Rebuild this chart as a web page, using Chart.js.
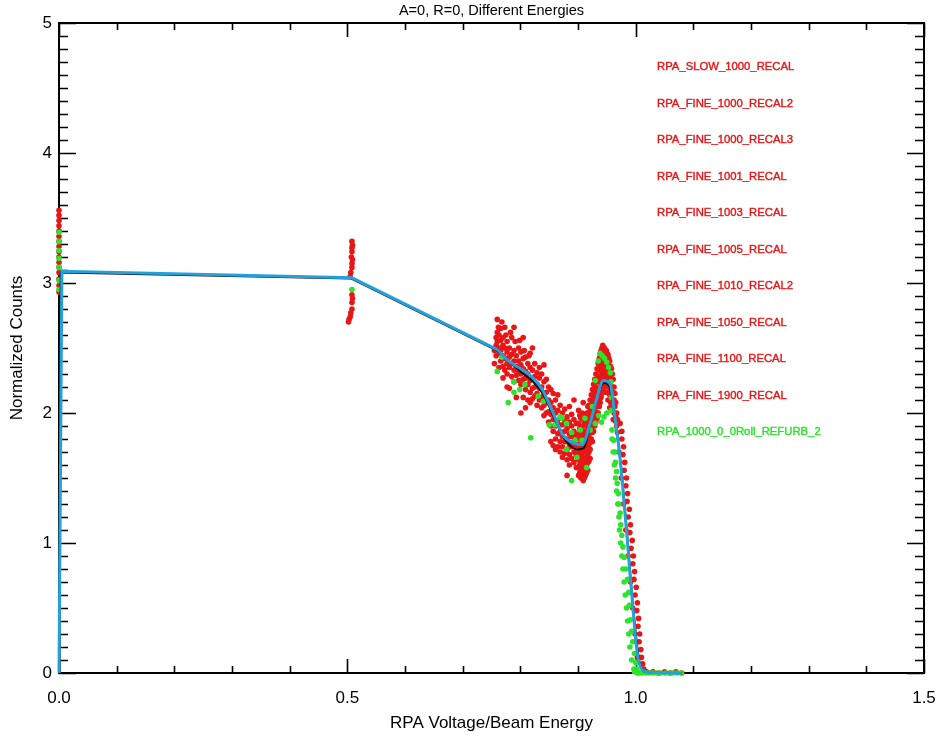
<!DOCTYPE html>
<html>
<head>
<meta charset="utf-8">
<script src="https://cdn.jsdelivr.net/npm/chart.js@4.4.1/dist/chart.umd.min.js"></script>
<style>
  html, body { margin: 0; padding: 0; background: #fff; }
  #wrap { width: 940px; height: 738px; }
</style>
</head>
<body>
<div id="wrap"><canvas id="rpa_canvas" width="940" height="738"></canvas></div>
<script>
// ---- data ----
const chartTitle = 'A=0, R=0, Different Energies';
const xTitle = 'RPA Voltage/Beam Energy';
const yTitle = 'Normalized Counts';
const xTickLabels = ['0.0', '0.5', '1.0', '1.5'];
const yTickLabels = ['0', '1', '2', '3', '4', '5'];

const runNames = ['RPA_SLOW_1000_RECAL', 'RPA_FINE_1000_RECAL2', 'RPA_FINE_1000_RECAL3',
  'RPA_FINE_1001_RECAL', 'RPA_FINE_1003_RECAL', 'RPA_FINE_1005_RECAL', 'RPA_FINE_1010_RECAL2',
  'RPA_FINE_1050_RECAL', 'RPA_FINE_1100_RECAL', 'RPA_FINE_1900_RECAL', 'RPA_1000_0_0Roll_REFURB_2'];
const runColors = ['red', 'red', 'red', 'red', 'red', 'red', 'red', 'red', 'red', 'red', 'green'];

// red runs (x = RPA voltage / beam energy, y = normalized counts)
const redEdge = [[0,3.56],[0,3.52],[0,3.48],[0,3.44],[0,3.40],[0,3.36],[0,3.32],[0,3.28],[0,3.24],
  [0,3.20],[0,3.16],[0,3.12],[0,3.08],[0,3.03],[0,2.98],[0,2.93]];
const redMid = [[0.508,3.32],[0.509,3.29],[0.508,3.27],[0.508,3.24],[0.507,3.20],[0.509,3.18],
  [0.508,3.15],[0.508,3.12],[0.506,3.08],[0.505,3.05],[0.508,2.91],[0.509,2.88],[0.508,2.85],
  [0.508,2.80],[0.506,2.77],[0.505,2.74],[0.503,2.72],[0.502,2.70]];
const redCloud = [
  [0.755,2.48],[0.755,2.38],[0.758,2.58],[0.758,2.52],[0.758,2.44],[0.760,2.72],[0.760,2.62],[0.760,2.55],
  [0.763,2.60],[0.763,2.50],[0.763,2.46],[0.763,2.35],[0.766,2.65],[0.766,2.56],[0.766,2.48],[0.766,2.40],
  [0.770,2.58],[0.770,2.52],[0.770,2.44],[0.770,2.36],[0.770,2.27],[0.773,2.66],[0.773,2.50],[0.773,2.42],
  [0.773,2.33],[0.777,2.55],[0.777,2.47],[0.777,2.38],[0.777,2.30],[0.777,2.20],[0.781,2.50],[0.781,2.43],
  [0.781,2.35],[0.781,2.19],[0.785,2.58],[0.785,2.45],[0.785,2.38],[0.785,2.28],[0.789,2.66],[0.789,2.48],
  [0.789,2.40],[0.789,2.33],[0.789,2.24],[0.793,2.44],[0.793,2.36],[0.793,2.29],[0.793,2.12],[0.797,2.50],
  [0.797,2.40],[0.797,2.32],[0.797,2.25],[0.801,2.47],[0.801,2.37],[0.801,2.30],[0.801,2.22],[0.801,2.00],
  [0.805,2.58],[0.805,2.42],[0.805,2.34],[0.805,2.26],[0.805,2.12],[0.809,2.43],[0.809,2.32],[0.809,2.27],
  [0.809,2.18],[0.809,2.04],[0.813,2.38],[0.813,2.30],[0.813,2.22],[0.813,2.10],[0.817,2.46],[0.817,2.35],
  [0.817,2.25],[0.817,2.16],[0.817,2.08],[0.821,2.50],[0.821,2.33],[0.821,2.26],[0.821,2.19],[0.821,2.11],
  [0.825,2.38],[0.825,2.28],[0.825,2.20],[0.825,2.13],[0.829,2.31],[0.829,2.22],[0.829,2.15],[0.829,2.06],
  [0.833,2.35],[0.833,2.27],[0.833,2.19],[0.833,2.10],[0.837,2.30],[0.837,2.20],[0.837,2.12],[0.837,2.04],
  [0.841,2.37],[0.841,2.24],[0.841,2.15],[0.841,2.06],[0.841,1.98],[0.845,2.26],[0.845,2.16],[0.845,2.08],
  [0.845,2.00],[0.849,2.20],[0.849,2.10],[0.849,2.01],[0.849,1.93],[0.853,2.18],[0.853,2.08],[0.853,1.99],
  [0.853,1.90],[0.853,1.78],[0.857,2.15],[0.857,2.04],[0.857,1.95],[0.857,1.86],[0.857,1.75],[0.861,2.10],
  [0.861,2.00],[0.861,1.90],[0.861,1.80],[0.861,1.72],[0.865,2.14],[0.865,2.02],[0.865,1.92],[0.865,1.84],
  [0.865,1.74],[0.869,2.06],[0.869,1.96],[0.869,1.86],[0.869,1.78],[0.869,1.70],[0.873,2.00],[0.873,1.91],
  [0.873,1.82],[0.873,1.74],[0.873,1.66],[0.877,2.03],[0.877,1.94],[0.877,1.86],[0.877,1.78],[0.877,1.69],
  [0.881,1.97],[0.881,1.88],[0.881,1.80],[0.881,1.72],[0.881,1.64],[0.881,1.52],[0.885,2.05],[0.885,1.93],
  [0.885,1.84],[0.885,1.76],[0.885,1.68],[0.885,1.60],[0.889,1.99],[0.889,1.90],[0.889,1.82],[0.889,1.74],
  [0.889,1.65],[0.893,2.10],[0.893,1.95],[0.893,1.86],[0.893,1.78],[0.893,1.70],[0.893,1.62],[0.897,1.92],
  [0.897,1.83],[0.897,1.75],[0.897,1.67],[0.897,1.58],
  [0.762,2.66],[0.768,2.70],[0.775,2.60],[0.783,2.62],[0.791,2.55],[0.799,2.56],[0.807,2.48],[0.815,2.44]];
const redPeak = [
  [0.901,2.02],[0.901,1.92],[0.901,1.84],[0.901,1.76],[0.901,1.70],[0.901,1.64],[0.901,1.58],[0.901,1.52],
  [0.905,1.96],[0.905,1.88],[0.905,1.80],[0.905,1.74],[0.905,1.68],[0.905,1.62],[0.905,1.56],[0.905,1.50],
  [0.909,2.08],[0.909,1.95],[0.909,1.86],[0.909,1.78],[0.909,1.72],[0.909,1.66],[0.909,1.60],[0.909,1.54],
  [0.909,1.48],[0.913,1.98],[0.913,1.90],[0.913,1.82],[0.913,1.76],[0.913,1.70],[0.913,1.64],[0.913,1.58],
  [0.913,1.52],[0.917,2.05],[0.917,1.96],[0.917,1.88],[0.917,1.80],[0.917,1.74],[0.917,1.68],[0.917,1.62],
  [0.917,1.56],[0.921,2.10],[0.921,2.02],[0.921,1.94],[0.921,1.86],[0.921,1.80],[0.921,1.72],[0.921,1.65],
  [0.925,2.18],[0.925,2.08],[0.925,2.00],[0.925,1.92],[0.925,1.85],[0.925,1.78],[0.929,2.26],[0.929,2.16],
  [0.929,2.06],[0.929,1.98],[0.929,1.90],[0.933,2.34],[0.933,2.24],[0.933,2.14],[0.933,2.05],[0.933,1.96],
  [0.937,2.42],[0.937,2.33],[0.937,2.24],[0.937,2.14],[0.937,2.05],[0.940,2.48],[0.940,2.40],[0.940,2.32],
  [0.940,2.22],[0.940,2.12],[0.943,2.52],[0.943,2.44],[0.943,2.36],[0.943,2.28],[0.943,2.18],[0.946,2.50],
  [0.946,2.43],[0.946,2.36],[0.946,2.28],[0.946,2.20],[0.949,2.48],[0.949,2.40],[0.949,2.32],[0.949,2.25],
  [0.949,2.16],[0.952,2.45],[0.952,2.37],[0.952,2.29],[0.952,2.20],[0.952,2.10],[0.955,2.40],[0.955,2.32],
  [0.955,2.24],[0.955,2.14],[0.955,2.04],[0.958,2.34],[0.958,2.25],[0.958,2.15],[0.958,2.05],[0.961,2.26],
  [0.961,2.16],[0.961,2.06],[0.961,1.95],[0.964,2.15],[0.964,2.05],[0.964,1.94],[0.967,2.00],[0.967,1.90]];
const redPeakFill = [
  [0.903,1.98],[0.903,1.88],[0.903,1.80],[0.903,1.72],[0.903,1.66],[0.903,1.60],[0.903,1.54],
  [0.907,2.00],[0.907,1.90],[0.907,1.83],[0.907,1.76],[0.907,1.70],[0.907,1.64],[0.907,1.58],[0.907,1.52],
  [0.911,1.92],[0.911,1.84],[0.911,1.78],[0.911,1.70],[0.911,1.62],[0.911,1.56],[0.911,1.50],
  [0.915,2.00],[0.915,1.92],[0.915,1.85],[0.915,1.78],[0.915,1.72],[0.915,1.66],[0.915,1.60],[0.915,1.54],
  [0.919,2.06],[0.919,1.98],[0.919,1.90],[0.919,1.83],[0.919,1.76],[0.919,1.70],[0.919,1.63],
  [0.923,2.14],[0.923,2.04],[0.923,1.96],[0.923,1.88],[0.923,1.80],[0.927,2.22],[0.927,2.12],[0.927,2.03],
  [0.927,1.95],[0.927,1.86],[0.931,2.30],[0.931,2.20],[0.931,2.10],[0.931,2.01],[0.931,1.93],[0.935,2.38],
  [0.935,2.28],[0.935,2.18],[0.935,2.09],[0.935,2.00],[0.9385,2.45],[0.9385,2.37],[0.9385,2.28],[0.9385,2.18],
  [0.9385,2.08],[0.9415,2.50],[0.9415,2.42],[0.9415,2.34],[0.9415,2.25],[0.9415,2.15],[0.9445,2.48],
  [0.9445,2.40],[0.9445,2.32],[0.9445,2.24],[0.9475,2.47],[0.9475,2.39],[0.9475,2.31],[0.9475,2.22],
  [0.9505,2.46],[0.9505,2.38],[0.9505,2.30],[0.9505,2.21],[0.9535,2.42],[0.9535,2.34],[0.9535,2.25],
  [0.9535,2.15],[0.9565,2.36],[0.9565,2.28],[0.9565,2.18],[0.9565,2.08],[0.9595,2.30],[0.9595,2.20],
  [0.9595,2.10],[0.9625,2.20],[0.9625,2.10],[0.9625,2.00],[0.9655,2.08],[0.9655,1.97],[0.9685,1.95],[0.9685,1.85]];
const redDrop = [
  [0.973,1.92],[0.976,1.86],[0.976,1.80],[0.979,1.74],[0.978,1.68],[0.981,1.62],[0.980,1.56],[0.984,1.50],
  [0.983,1.44],[0.986,1.38],[0.985,1.32],[0.989,1.26],[0.987,1.20],[0.991,1.14],[0.990,1.08],[0.994,1.02],
  [0.992,0.96],[0.996,0.90],[0.995,0.84],[0.998,0.78],[0.997,0.72],[1.001,0.66],[0.999,0.60],[1.003,0.54],
  [1.002,0.48],[1.005,0.42],[1.004,0.36],[1.007,0.30],[1.006,0.24],[1.009,0.18],[1.010,0.12],[1.012,0.07],
  [1.014,0.03],[1.018,0.01],[0.971,1.70],[0.975,1.50],[0.979,1.30],[0.983,1.10],[0.987,0.90],[0.991,0.70],
  [0.995,0.50],[0.999,0.30],[1.003,0.12]];
const redTail = [[1.02,0.005],[1.03,0.01],[1.04,0.0],[1.05,0.01],[1.06,0.0],[1.07,0.01],[1.08,0.0]];

// green run (RPA_1000_0_0Roll_REFURB_2)
const greenEdge = [[0,3.39],[0,3.32],[0,3.25],[0,3.19],[0,3.12],[0,3.02],[0,2.95]];
const greenMid = [[0.508,2.95]];
const greenCloud = [[0.768,2.43],[0.760,2.32],[0.789,2.24],[0.789,2.16],[0.799,2.18],[0.808,2.22],
  [0.779,2.08],[0.831,2.13],[0.840,2.09],[0.818,1.81],[0.850,1.91],[0.869,1.97],[0.860,1.91],
  [0.889,1.85],[0.880,1.72],[0.898,1.66],[0.889,1.48],[0.872,1.96],[0.880,1.92]];
const greenPeak = [[0.935,2.40],[0.938,2.46],[0.942,2.44],[0.946,2.42],[0.950,2.39],[0.953,2.35],
  [0.956,2.31],[0.957,2.24],[0.958,2.12],[0.958,2.02],[0.930,2.25],[0.941,1.93],[0.930,1.92],
  [0.921,1.87],[0.912,1.96],[0.904,1.87],[0.907,1.79],[0.895,1.79],[0.915,1.58],[0.936,1.98],
  [0.945,1.97],[0.950,2.00],[0.925,2.05]];
const greenDrop = [[0.959,1.87],[0.962,1.79],[0.964,1.70],[0.965,1.62],[0.967,1.55],[0.968,1.46],
  [0.970,1.38],[0.971,1.30],[0.973,1.23],[0.974,1.14],[0.976,1.06],[0.978,0.97],[0.980,0.89],
  [0.983,0.80],[0.986,0.72],[0.988,0.62],[0.989,0.52],[0.991,0.41],[0.993,0.32],[0.995,0.24],
  [0.998,0.15],[1.000,0.08],[1.002,0.03],[1.004,0.01],[0.998,0.01],[1.000,0.02],[1.003,0.0],
  [0.959,1.80],[0.961,1.70],[0.963,1.60],[0.965,1.50],[0.967,1.40],[0.969,1.30],[0.971,1.20],
  [0.972,1.10],[0.974,1.00],[0.976,0.90],[0.978,0.80],[0.980,0.70],[0.982,0.60],[0.984,0.50],
  [0.986,0.40],[0.988,0.30],[0.990,0.20],[0.993,0.10],[0.997,0.03]];
const greenTail = [[1.006,0],[1.012,0],[1.018,0],[1.024,0],[1.030,0],[1.037,0],[1.044,0],[1.051,0],
  [1.058,0],[1.065,0],[1.072,0],[1.079,0]];

// averaged curves: straight part, then the smooth part
const meanStraight = [[0,0],[0.005,3.09],[0.508,3.04],[0.761,2.485]];
const meanSmooth = [[0.761,2.485],[0.777,2.41],[0.793,2.36],[0.805,2.33],
  [0.822,2.27],[0.838,2.18],[0.855,2.02],[0.874,1.83],[0.892,1.77],[0.907,1.755],[0.921,1.92],
  [0.933,2.12],[0.944,2.25],[0.956,2.22],[0.964,1.97],[0.973,1.65],[0.979,1.35],[0.985,1.05],
  [0.990,0.77],[0.996,0.46],[1.002,0.18],[1.008,0.05],[1.020,0.008],[1.080,0]];
const altStraight = [[0.001,0],[0.003,3.08],[0.506,3.035],[0.760,2.48]];
const altSmooth = [[0.760,2.48],[0.800,2.32],[0.820,2.25],[0.840,2.14],
  [0.860,1.95],[0.880,1.78],[0.900,1.72],[0.910,1.73],[0.920,1.89],[0.935,2.15],[0.945,2.23],
  [0.955,2.20],[0.965,1.93],[0.975,1.57],[0.985,1.07],[0.996,0.49],[1.008,0.06],[1.020,0.005],[1.080,0]];

const xMinorStep = 0.1, yMinorStep = 0.1;

function toXY(list) {
    return list.map(function (p) { return { x: p[0], y: p[1] }; });
}

const RED = 'rgb(232,22,22)';
const GREEN = 'rgb(44,228,44)';
const BLUE = 'rgb(38,160,218)';
const FONT = '"Liberation Sans", Arial, sans-serif';

const framePlugin = {
    id: 'idlFrame',
    beforeDatasetsDraw(chart) {
        const ctx = chart.ctx;
        const xs = chart.scales.x, ys = chart.scales.y;
        const a = chart.chartArea;
        ctx.save();
        ctx.strokeStyle = '#000';
        ctx.lineWidth = 2;
        ctx.strokeRect(a.left, a.top, a.right - a.left, a.bottom - a.top);
        ctx.lineWidth = 1.6;
        ctx.beginPath();
        var nx = Math.round((xs.max - xs.min) / xMinorStep);
        for (var i = 0; i <= nx; i++) {
            var px = Math.round(xs.getPixelForValue(xs.min + i * xMinorStep)) + 0.5;
            var len = (i % 5 === 0) ? 14 : 7;
            ctx.moveTo(px, a.bottom); ctx.lineTo(px, a.bottom - len);
            ctx.moveTo(px, a.top); ctx.lineTo(px, a.top + len);
        }
        var ny = Math.round((ys.max - ys.min) / yMinorStep);
        for (var j = 0; j <= ny; j++) {
            var py = Math.round(ys.getPixelForValue(ys.min + j * yMinorStep)) + 0.5;
            var ylen = (j % 10 === 0) ? 17 : 9;
            ctx.moveTo(a.left, py); ctx.lineTo(a.left + ylen, py);
            ctx.moveTo(a.right, py); ctx.lineTo(a.right - ylen, py);
        }
        ctx.stroke();

        // title
        ctx.fillStyle = '#000';
        ctx.font = '14.5px ' + FONT;
        ctx.textAlign = 'center';
        ctx.textBaseline = 'middle';
        ctx.fillText(chartTitle, (a.left + a.right) / 2, 11);
        ctx.restore();
    },
    afterDatasetsDraw(chart) {
        const ctx = chart.ctx;
        ctx.save();
        ctx.font = '11.3px ' + FONT;
        ctx.textAlign = 'left';
        ctx.textBaseline = 'middle';
        ctx.lineWidth = 0.4;
        runNames.forEach(function (name, i) {
            var c = runColors[i] === 'green' ? GREEN : RED;
            ctx.fillStyle = c;
            ctx.strokeStyle = c;
            ctx.fillText(name, 657, 67 + i * 36.5);
            ctx.strokeText(name, 657, 67 + i * 36.5);
        });
        ctx.restore();
    }
};

const ctx = document.getElementById('rpa_canvas').getContext('2d');
const dotStyle = { pointRadius: 2.8, pointBorderWidth: 0, pointHoverRadius: 2.8, showLine: false, clip: false };
const lineStyle = { showLine: true, pointRadius: 0, clip: false };

new Chart(ctx, {
    type: 'scatter',
    data: {
        datasets: [
            Object.assign({ label: 'mean', data: toXY(meanStraight), borderColor: BLUE, borderWidth: 3, order: 0 }, lineStyle),
            Object.assign({ label: 'mean smooth', data: toXY(meanSmooth), borderColor: BLUE, borderWidth: 3,
                cubicInterpolationMode: 'monotone', order: 0 }, lineStyle),
            Object.assign({ label: 'alt', data: toXY(altStraight), borderColor: '#151515', borderWidth: 2, order: 1 }, lineStyle),
            Object.assign({ label: 'alt smooth', data: toXY(altSmooth), borderColor: '#151515', borderWidth: 2,
                cubicInterpolationMode: 'monotone', order: 1 }, lineStyle),
            Object.assign({ label: 'green', data: toXY([].concat(greenEdge, greenMid, greenCloud, greenPeak, greenDrop, greenTail)),
                backgroundColor: GREEN, order: 2 }, dotStyle),
            Object.assign({ label: 'red', data: toXY([].concat(redEdge, redMid, redCloud, redPeak, redPeakFill, redDrop, redTail)),
                backgroundColor: RED, order: 3 }, dotStyle)
        ]
    },
    options: {
        responsive: false,
        animation: false,
        layout: { padding: { top: 23, right: 16, bottom: 0, left: 0 } },
        plugins: {
            legend: { display: false },
            tooltip: { enabled: false },
            title: { display: false }
        },
        scales: {
            x: {
                type: 'linear', min: 0, max: 1.5,
                grid: { display: false, drawTicks: false },
                border: { display: false },
                ticks: {
                    stepSize: 0.5, padding: 15, color: '#000',
                    font: { family: FONT, size: 17 },
                    maxRotation: 0,
                    callback: function (v, i) { return xTickLabels[i]; }
                },
                title: { display: true, text: xTitle, color: '#000', padding: { top: 0, bottom: 4 },
                    font: { family: FONT, size: 17 } },
                afterFit: function (scale) { scale.height = 65; scale.paddingLeft = 0; scale.paddingRight = 0; }
            },
            y: {
                type: 'linear', min: 0, max: 5,
                grid: { display: false, drawTicks: false },
                border: { display: false },
                ticks: {
                    stepSize: 1, padding: 7, color: '#000',
                    font: { family: FONT, size: 17 },
                    callback: function (v, i) { return yTickLabels[i]; }
                },
                title: { display: true, text: yTitle, color: '#000', padding: { top: 7, bottom: 0 },
                    font: { family: FONT, size: 17 } },
                afterFit: function (scale) { scale.width = 59; scale.paddingTop = 0; scale.paddingBottom = 0; }
            }
        }
    },
    plugins: [framePlugin]
});
</script>
</body>
</html>
